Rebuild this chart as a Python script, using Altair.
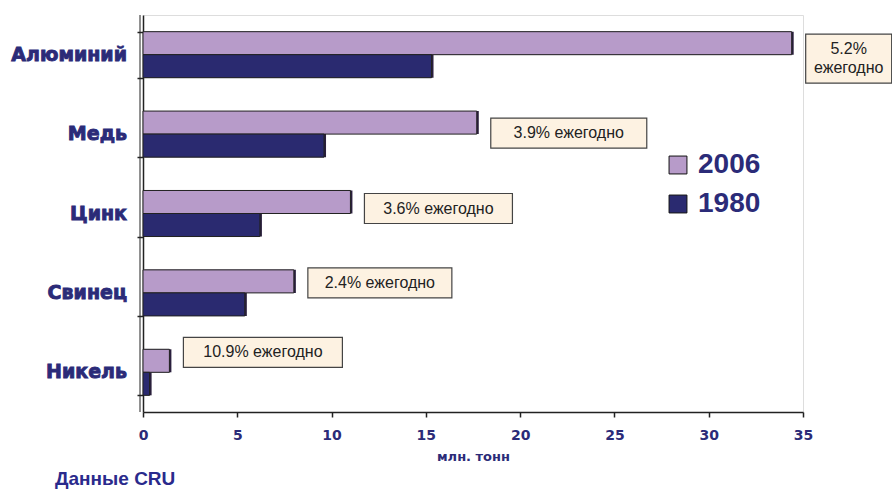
import altair as alt
import pandas as pd

# Production of base metals, million tonnes
metals = ["Алюминий", "Медь", "Цинк", "Свинец", "Никель"]
output_2006 = [34.4, 17.7, 11.0, 8.0, 1.4]
output_1980 = [15.3, 9.6, 6.2, 5.4, 0.35]
growth_labels = ["5.2%\nежегодно", "3.9% ежегодно", "3.6% ежегодно",
                 "2.4% ежегодно", "10.9% ежегодно"]
years = ["2006", "1980"]
x_ticks = [0, 5, 10, 15, 20, 25, 30, 35]

# layout
W, H = 660, 397
X_MAX = 35
PX = W / X_MAX               # pixels per million tonnes
STEP = H / len(metals)       # pixels per metal band
NAVY = "#2b2b78"
LAVENDER = "#b79bc9"
DARK = "#2a2a70"
FONT = "Liberation Sans"
HEAVY = "DejaVu Sans"
LINE_H = 19

# callout boxes: width, height and vertical shift (px) per metal
box_w = [86, 156, 148, 144, 159]
box_h = [49, 30, 30, 30, 30]
box_shift = [4, -1, -5, -10, -20]
GAP = 14

rows = []
for m, a, b in zip(metals, output_2006, output_1980):
    rows.append({"metal": m, "year": "2006", "value": a})
    rows.append({"metal": m, "year": "1980", "value": b})
bars = pd.DataFrame(rows)

ann = pd.DataFrame({"metal": metals, "text": growth_labels, "v": output_2006})
ann["idx"] = range(len(metals))
ann["lines"] = ann["text"].str.count("\n") + 1
ann["x0"] = ann["v"] + GAP / PX
ann["x1"] = ann["x0"] + pd.Series(box_w) / PX
ann["xc"] = (ann["x0"] + ann["x1"]) / 2
ann["yc"] = ann["idx"] + 0.5 + pd.Series(box_shift) / STEP
ann["y0"] = ann["yc"] - pd.Series(box_h) / 2 / STEP
ann["y1"] = ann["yc"] + pd.Series(box_h) / 2 / STEP
# first-line position so that multi-line text sits centred in its box
ann["yt"] = ann["yc"] - (ann["lines"] - 1) * LINE_H / 2 / STEP

single = pd.DataFrame({"note": ["Данные CRU"]})
cats = pd.DataFrame({"metal": metals})

x_enc = alt.X(
    "value:Q",
    scale=alt.Scale(domain=[0, X_MAX], nice=False),
    axis=alt.Axis(values=x_ticks, title="млн. тонн", grid=False,
                  labelFlush=False,
                  labelFont=HEAVY, labelFontWeight="bold", labelFontSize=14,
                  labelColor=NAVY, labelPadding=11,
                  titleFont=HEAVY, titleFontWeight="bold", titleFontSize=13,
                  titleColor=NAVY, titlePadding=8,
                  domainColor="#222", domainWidth=1.5,
                  tickColor="#222", tickWidth=1.5, tickSize=5),
)
y_scale = alt.Scale(paddingInner=0.42, paddingOuter=0.21)
y_enc = alt.Y(
    "metal:N", sort=metals, scale=y_scale,
    axis=alt.Axis(title=None, grid=False, tickBand="extent", labels=False,
                  domainColor="#222", domainWidth=1.5,
                  tickColor="#222", tickWidth=1.5, tickSize=6),
)
yoff = alt.YOffset("year:N", sort=years, scale=alt.Scale(paddingInner=0))

shadow = alt.Chart(bars).mark_bar(xOffset=2, fill="#2a1f3d").encode(
    x=x_enc, y=y_enc, yOffset=yoff
)

main = alt.Chart(bars).mark_bar(stroke="#222", strokeWidth=1).encode(
    x=x_enc, y=y_enc, yOffset=yoff,
    color=alt.Color(
        "year:N",
        scale=alt.Scale(domain=years, range=[LAVENDER, DARK]),
        legend=alt.Legend(
            title=None, orient="none", legendX=521, legendY=136,
            symbolType="square", symbolSize=320, symbolStrokeColor="#111",
            symbolStrokeWidth=1, symbolOpacity=1,
            labelFont=FONT, labelFontWeight="bold", labelFontSize=28,
            labelColor=NAVY, rowPadding=11, labelOffset=6,
        ),
    ),
)

# heavy category labels left of the axis
cat_labels = alt.Chart(cats).mark_text(
    font=HEAVY, fontWeight="bold", fontSize=19, color=NAVY,
    stroke=NAVY, strokeWidth=0.9, align="right", baseline="middle",
).encode(
    x=alt.value(-16),
    y=alt.Y("metal:N", sort=metals, scale=y_scale),
    text="metal:N",
)

# second line of the value axis wall
wall = alt.Chart(single).mark_rule(xOffset=-3, color="#222", strokeWidth=1).encode(
    x=alt.datum(0)
)

bars_layer = shadow + main + cat_labels + wall

y_ann = alt.Scale(domain=[0, len(metals)], reverse=True)
boxes = alt.Chart(ann).mark_rect(
    fill="#fdf2e2", stroke="#444", strokeWidth=1.2
).encode(
    x=alt.X("x0:Q", scale=alt.Scale(domain=[0, X_MAX], nice=False)),
    x2="x1:Q",
    y=alt.Y("y0:Q", scale=y_ann, axis=None),
    y2="y1:Q",
)
texts = alt.Chart(ann).mark_text(
    font=FONT, fontSize=16, color="#222", lineBreak="\n", baseline="middle",
    lineHeight=LINE_H,
).encode(
    x=alt.X("xc:Q", scale=alt.Scale(domain=[0, X_MAX], nice=False)),
    y=alt.Y("yt:Q", scale=y_ann, axis=None),
    text="text:N",
)
notes = boxes + texts

source = alt.Chart(single).mark_text(
    font=FONT, fontSize=19, fontWeight="bold", color="#2a2a8c", align="left"
).encode(
    x=alt.value(-88), y=alt.value(H + 67), text="note:N"
)

chart = (
    alt.layer(bars_layer, notes, source)
    .resolve_scale(y="independent")
    .properties(
        width=W, height=H,
        autosize=alt.AutoSizeParams(type="none"),
        padding={"left": 143, "top": 15, "right": 89, "bottom": 77},
    )
    .configure_view(stroke=None)
    .configure(background="white")
)

chart.save("out.html", embed_options={"renderer": "svg", "actions": False})
